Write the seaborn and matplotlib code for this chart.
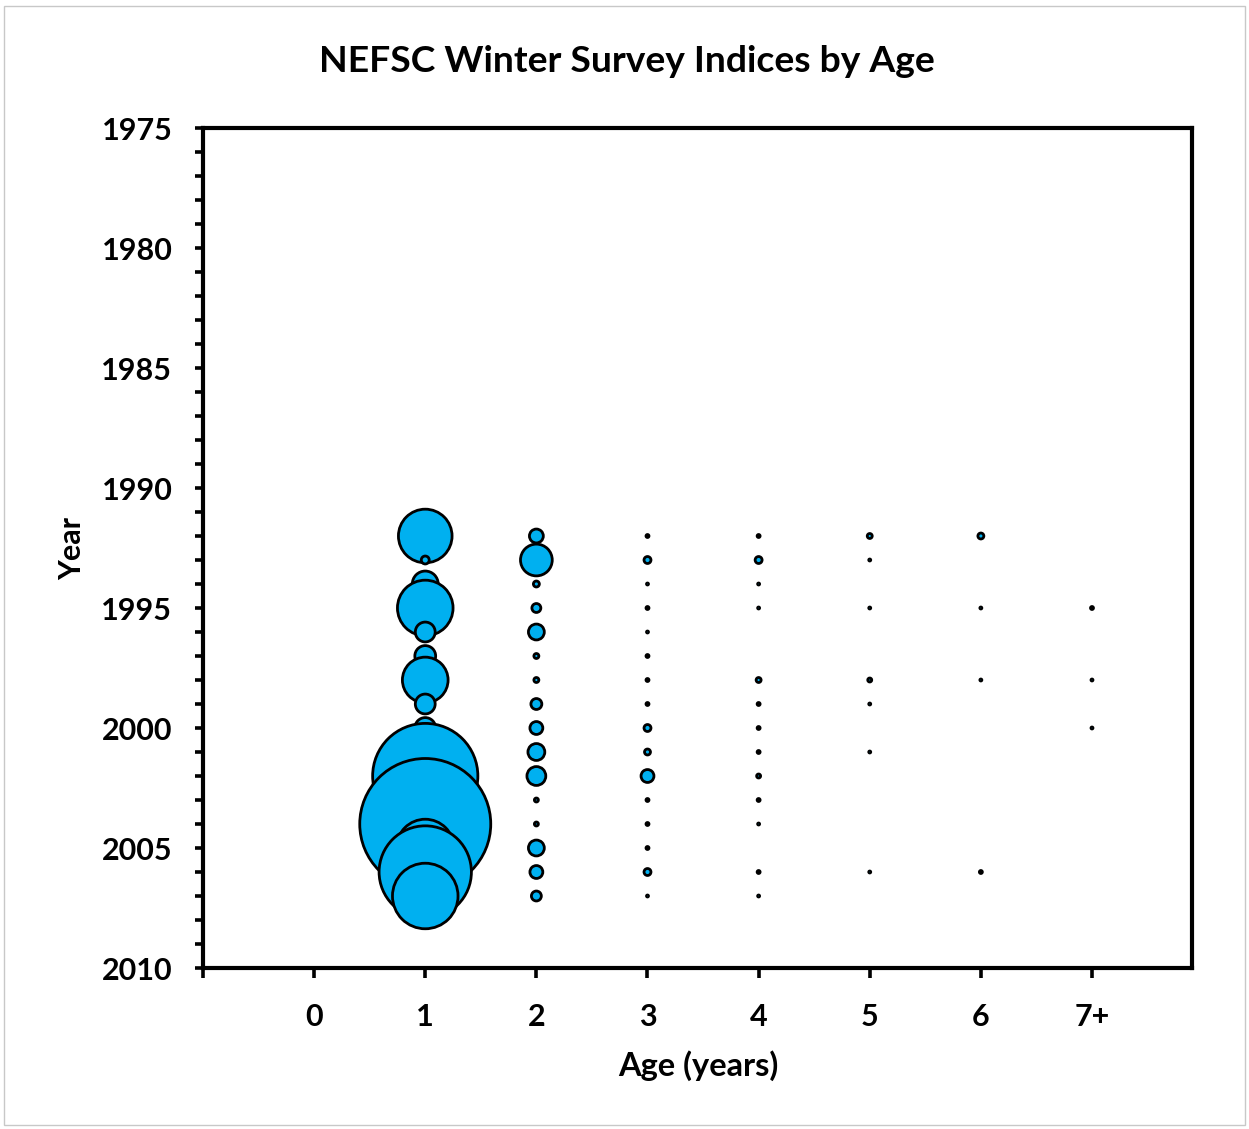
import numpy as np
import pandas as pd
import matplotlib
matplotlib.use("Agg")
import matplotlib.pyplot as plt
from matplotlib.ticker import MultipleLocator, FixedLocator
from matplotlib.patches import Rectangle
import seaborn as sns

# ---------------- data (relative survey index, bubble area ~ value) ----------------
years = list(range(1992, 2008))
age_labels = ["0", "1", "2", "3", "4", "5", "6", "7+"]
age_pos = [0, 1, 2, 3, 4, 5, 6, 7]

nan = np.nan
age0 = [nan] * 16
age1 = [2.92, 0.064, 0.68, 3.14, 0.40, 0.44, 2.12, 0.40, 0.44, 0.68,
        11.24, 3.36, 17.42, 3.36, 8.65, 4.36]
age2 = [0.196, 1.024, 0.036, 0.081, 0.256, 0.025, 0.025, 0.121, 0.169, 0.289,
        0.361, 0.016, 0.016, 0.256, 0.169, 0.100]
age3 = [0.009, 0.049, 0.004, 0.009, 0.004, 0.009, 0.009, 0.009, 0.049, 0.036,
        0.169, 0.009, 0.009, 0.009, 0.049, 0.004]
age4 = [0.009, 0.049, 0.004, 0.004, nan, nan, 0.025, 0.009, 0.009, 0.009,
        0.016, 0.009, 0.004, nan, 0.009, 0.004]
age5 = [0.025, 0.004, nan, 0.004, nan, nan, 0.016, 0.004, nan, 0.004,
        nan, nan, nan, nan, 0.004, nan]
age6 = [0.036, nan, nan, 0.004, nan, nan, 0.004, nan, nan, nan,
        nan, nan, nan, nan, 0.009, nan]
age7 = [nan, nan, nan, 0.009, nan, nan, 0.004, nan, 0.004, nan,
        nan, nan, nan, nan, nan, nan]

series = [age0, age1, age2, age3, age4, age5, age6, age7]
rows = []
for a, vals in zip(age_pos, series):
    for y, v in zip(years, vals):
        if not np.isnan(v):
            rows.append({"age": a, "year": y, "index": v})
df = pd.DataFrame(rows)

# ---------------- styling ----------------
sns.set_theme(style="white")
plt.rcParams["font.family"] = ["Lato", "DejaVu Sans"]
plt.rcParams.update({"text.color": "black", "axes.labelcolor": "black",
                     "xtick.color": "black", "ytick.color": "black"})

W, H, DPI = 1249, 1129, 100
fig = plt.figure(figsize=(W / DPI, H / DPI), dpi=DPI)
fig.patch.set_facecolor("white")
fig.patches.append(Rectangle((4 / W, 4 / H), (W - 8) / W, (H - 10) / H,
                             transform=fig.transFigure, fill=False,
                             edgecolor="#c8c8c8", linewidth=1.0))

ax = fig.add_axes([203 / W, 1 - 968 / H, (1192 - 203) / W, (968 - 128) / H])

vmax = df["index"].max()
d_max_pt = 131 * 72 / DPI
sns.scatterplot(data=df, x="age", y="year", size="index",
                sizes=(0, d_max_pt ** 2), size_norm=(0, vmax),
                color="#00B0F0", edgecolor="black", linewidth=2.0,
                legend=False, ax=ax, zorder=3)

ax.set_xlim(-1, 7.9)
ax.set_ylim(2010, 1975)
ax.xaxis.set_major_locator(FixedLocator([-1] + age_pos))
ax.set_xticklabels([""] + age_labels)
ax.yaxis.set_major_locator(MultipleLocator(5))
ax.yaxis.set_minor_locator(MultipleLocator(1))

for s in ax.spines.values():
    s.set_visible(True)
    s.set_color("black")
    s.set_linewidth(3.0)

ax.tick_params(axis="both", which="both", direction="out", color="black",
               labelcolor="black", width=2.6)
ax.tick_params(axis="y", which="major", length=6, left=True, labelsize=22, pad=16)
ax.tick_params(axis="y", which="minor", length=6, left=True)
ax.tick_params(axis="x", which="major", length=7, bottom=True, labelsize=22, pad=18)
for lab in ax.get_xticklabels() + ax.get_yticklabels():
    lab.set_fontweight("bold")

ax.set_xlabel("Age (years)", fontsize=23.5, fontweight="bold", va="center",
              color="black")
ax.xaxis.set_label_coords(0.5005, -0.1167)
ax.set_ylabel("Year", fontsize=22, fontweight="bold", va="center", color="black")
ax.yaxis.set_label_coords(-0.1325, 0.5)
fig.text(627 / W, 1 - 61 / H, "NEFSC Winter Survey Indices by Age",
         ha="center", va="center", fontsize=26.8, fontweight="bold", color="black")

fig.savefig("out.png", dpi=DPI)
